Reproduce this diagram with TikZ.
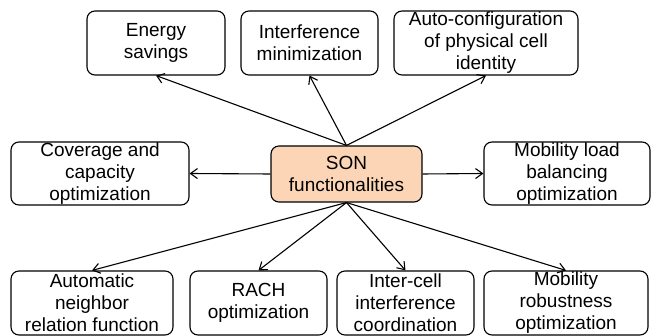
\documentclass[tikz,border=0pt]{standalone}
\usepackage{fontspec}
\setmainfont{Liberation Sans}
\usetikzlibrary{arrows.meta,positioning}
\definecolor{sonpeach}{RGB}{251,213,181}
\tikzset{
  func/.style={
    rounded corners=8pt,
    draw=black,
    line width=1.1pt,
    fill=white,
    align=center,
    inner sep=0pt,
    minimum height=64pt,
    font=\fontsize{19}{22}\selectfont
  },
  hub/.style={
    func,
    fill=sonpeach,
    minimum width=151pt,
    minimum height=56pt
  },
  arrow/.style={
    -{Straight Barb[length=7pt,width=10pt]},
    line width=1.1pt,
    black
  }
}
\begin{document}
\begin{tikzpicture}[x=1pt,y=-1pt]
\useasboundingbox (0,0) rectangle (651,336);
\clip (0,0) rectangle (651,336);
% centro
\node[hub] (son) at (346.5,174) {SON\\functionalities};
% fila superior
\node[func,minimum width=138pt] (energy) at (156,43) {Energy\\savings};
\node[func,minimum width=137pt] (interf) at (309.5,43) {Interference\\minimization};
\node[func,minimum width=184pt] (autoconf) at (486,43) {Auto-configuration\\of physical cell\\identity};
% fila media
\node[func,minimum width=178pt,minimum height=63pt] (coverage) at (100,173.5) {Coverage and\\capacity\\optimization};
\node[func,minimum width=166pt,minimum height=63pt] (mlb) at (567,173.5) {Mobility load\\balancing\\optimization};
% fila inferior
\node[func,minimum width=162pt] (anr) at (92,303) {Automatic\\neighbor\\relation function};
\node[func,minimum width=137pt] (rach) at (258.5,303) {RACH\\optimization};
\node[func,minimum width=137pt] (icic) at (405.5,303) {Inter-cell\\interference\\coordination};
\node[func,minimum width=164pt] (mro) at (566,303) {Mobility\\robustness\\optimization};
\draw[arrow] (son.north) -- (energy.south);
\draw[arrow] (son.north) -- (interf.south);
\draw[arrow] (son.north) -- (autoconf.south);
\draw[arrow] (son.west) -- (coverage.east);
\draw[arrow] (son.east) -- (mlb.west);
\draw[arrow] (son.south) -- (anr.north);
\draw[arrow] (son.south) -- (rach.north);
\draw[arrow] (son.south) -- (icic.north);
\draw[arrow] (son.south) -- (mro.north);
\end{tikzpicture}
\end{document}
